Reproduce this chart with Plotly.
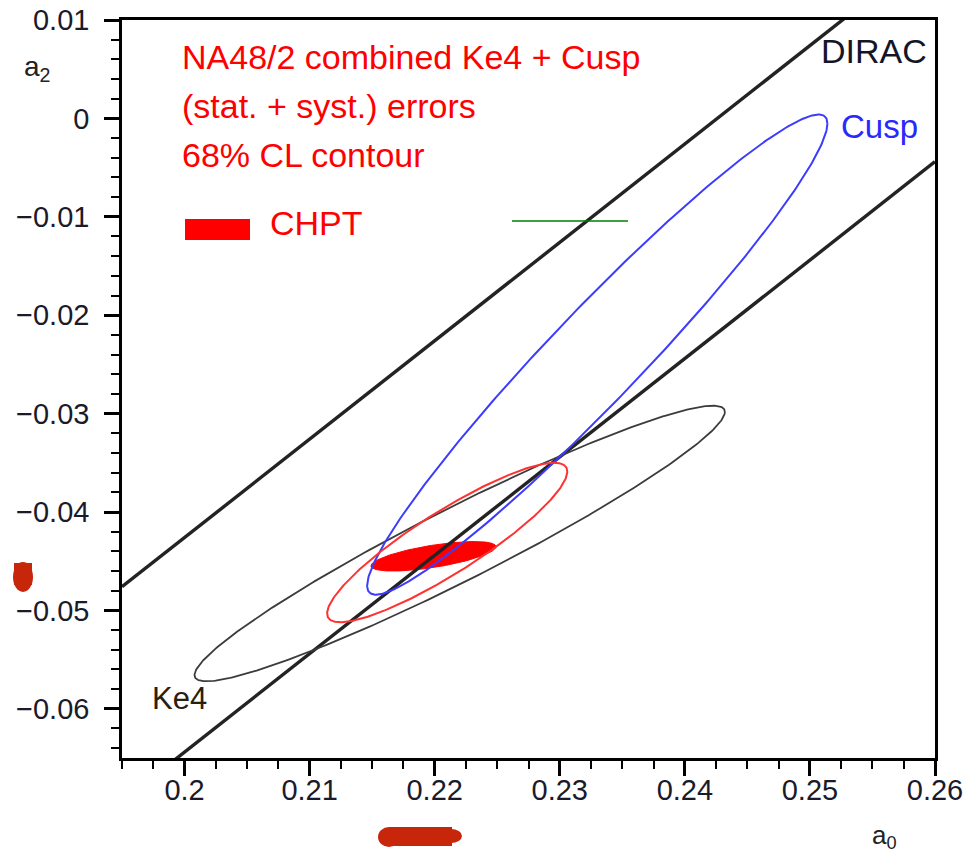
import numpy as np
import plotly.graph_objects as go

# ---------------- data ----------------
# 68% CL contours: centre, half-extent along a0 and a2, correlation
ELLIPSE_NAMES = ["Ke4", "Cusp", "NA48/2 combined", "CHPT"]
A0_CENTER = [0.2220, 0.2330, 0.2210, 0.2199]
A2_CENTER = [-0.0432, -0.0240, -0.0431, -0.0445]
A0_HALF = [0.0212, 0.0184, 0.0096, 0.0050]
A2_HALF = [0.0140, 0.0244, 0.0081, 0.0015]
CORRELATION = [0.955, 0.962, 0.89, 0.65]

# DIRAC band: a0 - a2 limits
DIRAC_DIFF = [0.2426, 0.2644]

X_RANGE = [0.195, 0.26]
Y_RANGE = [-0.065, 0.01]
X_TICKS = [0.20, 0.21, 0.22, 0.23, 0.24, 0.25, 0.26]
Y_TICKS = [0.01, 0.0, -0.01, -0.02, -0.03, -0.04, -0.05, -0.06]

FONT = "Liberation Sans, Arial, Helvetica, sans-serif"


def ellipse(i, n=361):
    t = np.linspace(0, 2 * np.pi, n)
    r = CORRELATION[i]
    x = A0_CENTER[i] + A0_HALF[i] * np.cos(t)
    y = A2_CENTER[i] + A2_HALF[i] * (r * np.cos(t) + np.sqrt(1 - r * r) * np.sin(t))
    return x, y


fig = go.Figure()

# CHPT filled region (drawn first, others on top)
x, y = ellipse(3)
fig.add_trace(go.Scatter(x=x, y=y, mode="lines", fill="toself",
                         fillcolor="rgb(255,0,0)", line=dict(color="rgb(255,0,0)", width=1),
                         name="CHPT", showlegend=False, hoverinfo="skip"))

# DIRAC band lines
for d in DIRAC_DIFF:
    xa = np.array(X_RANGE)
    fig.add_trace(go.Scatter(x=xa, y=xa - d, mode="lines",
                             line=dict(color="rgb(35,35,35)", width=3.4),
                             showlegend=False, hoverinfo="skip"))

styles = [("rgb(60,60,60)", 1.8), ("rgb(60,60,255)", 2.0), ("rgb(255,50,50)", 2.0)]
for i in range(3):
    x, y = ellipse(i)
    fig.add_trace(go.Scatter(x=x, y=y, mode="lines",
                             line=dict(color=styles[i][0], width=styles[i][1]),
                             name=ELLIPSE_NAMES[i], showlegend=False, hoverinfo="skip"))

# ---------------- layout ----------------
L, R, T, B = 122, 31, 20, 98
W, H = 966, 856
pw, ph = W - L - R, H - T - B


def px(xp):
    return (xp - L) / pw


def py(yp):
    return (H - B - yp) / ph


axis_common = dict(showline=True, linecolor="black", linewidth=2.5, mirror=True,
                   ticks="outside", ticklen=15, tickwidth=2.5, tickcolor="black",
                   showgrid=False, zeroline=False, automargin=False,
                   tickfont=dict(family=FONT, size=29, color="#1a1a2a"))

fig.update_xaxes(range=X_RANGE, tickvals=X_TICKS, ticktext=[f"{v:g}" for v in X_TICKS],
                 minor=dict(dtick=0.0025, tick0=0.195, ticklen=8, tickwidth=2.2,
                            tickcolor="black", ticks="outside"),
                 ticklabelstandoff=-11, **axis_common)
fig.update_yaxes(range=Y_RANGE, tickvals=Y_TICKS,
                 ticktext=[("\u2212" if v < 0 else "") + f"{abs(v):g}" for v in Y_TICKS],
                 minor=dict(dtick=0.002, tick0=0.0, ticklen=8, tickwidth=2.2,
                            tickcolor="black", ticks="outside"),
                 ticklabelstandoff=9, **axis_common)

red = "rgb(255,0,0)"
ann = []


def text(t, xp, yp, color, size=34, anchor="left"):
    ann.append(dict(text=t, x=px(xp), y=py(yp), xref="paper", yref="paper",
                    xanchor=anchor, yanchor="middle", showarrow=False,
                    font=dict(family=FONT, size=size, color=color)))


text("NA48/2 combined Ke4 + Cusp", 180, 57, red)
text("(stat. + syst.) errors", 180, 106, red)
text("68% CL contour", 180, 155, red)
text("CHPT", 268, 223, red)
text("DIRAC", 819, 51, "#15152a", size=34)
text("Cusp", 839, 126, "rgb(40,40,255)", size=33)
text("Ke4", 150, 698, "#2a2010", size=31)
text("a<sub>2</sub>", 22, 68, "#222", size=28)
text("a<sub>0</sub>", 870, 836, "#222", size=26)

shapes = [
    # CHPT legend swatch
    dict(type="rect", xref="paper", yref="paper", x0=px(185), x1=px(250), y0=py(240), y1=py(219),
         fillcolor=red, line=dict(width=0)),
    # stray green stroke
    dict(type="line", xref="paper", yref="paper", x0=px(512), x1=px(628), y0=py(221), y1=py(221),
         line=dict(color="rgb(0,128,0)", width=1.5)),
    # stray red brush marks outside the axes
    dict(type="circle", xref="paper", yref="paper", x0=px(13), x1=px(33), y0=py(592), y1=py(562),
         fillcolor="rgb(200,38,10)", line=dict(width=0), layer="above"),
    dict(type="rect", xref="paper", yref="paper", x0=px(14), x1=px(32), y0=py(585), y1=py(563),
         fillcolor="rgb(200,38,10)", line=dict(width=0), layer="above"),
    dict(type="circle", xref="paper", yref="paper", x0=px(378), x1=px(400), y0=py(847), y1=py(827),
         fillcolor="rgb(200,38,10)", line=dict(width=0), layer="above"),
    dict(type="rect", xref="paper", yref="paper", x0=px(389), x1=px(452), y0=py(846), y1=py(827),
         fillcolor="rgb(200,38,10)", line=dict(width=0), layer="above"),
    dict(type="circle", xref="paper", yref="paper", x0=px(440), x1=px(462), y0=py(843), y1=py(829),
         fillcolor="rgb(200,38,10)", line=dict(width=0), layer="above"),
]

fig.update_layout(width=W, height=H, margin=dict(l=L, r=R, t=T, b=B),
                  paper_bgcolor="white", plot_bgcolor="white",
                  annotations=ann, shapes=shapes, showlegend=False)

fig.write_html("out.html")
